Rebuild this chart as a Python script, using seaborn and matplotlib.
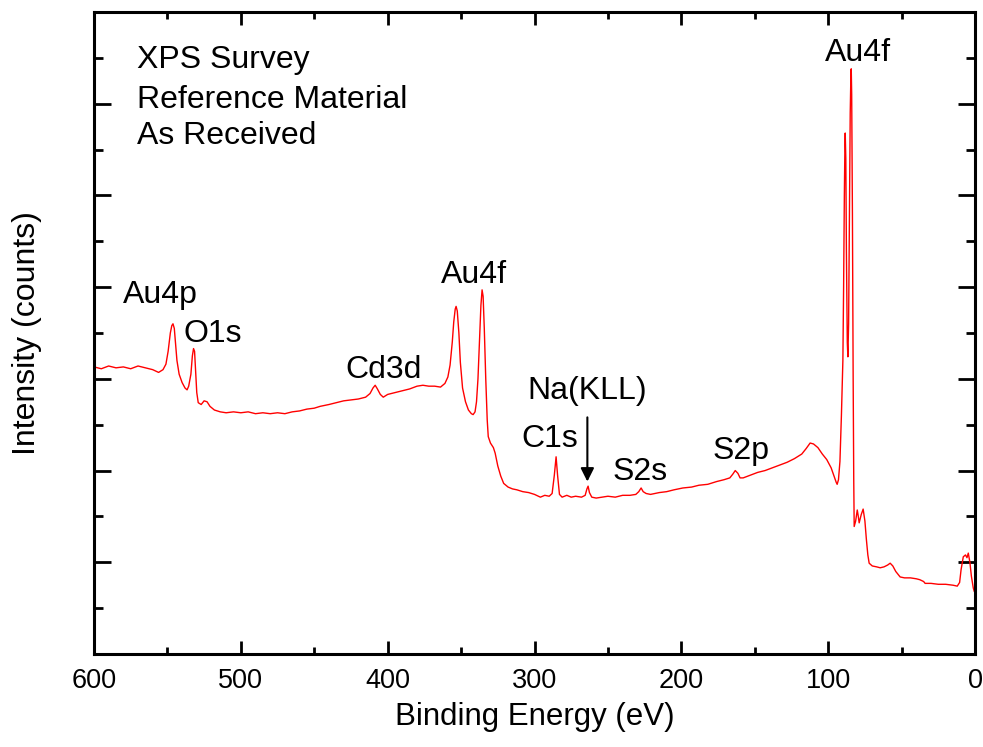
import numpy as np
import pandas as pd
import matplotlib
matplotlib.use("Agg")
import matplotlib.pyplot as plt
import seaborn as sns
from matplotlib.ticker import MultipleLocator, NullFormatter

# ---- data ----
binding_energy = [
    600, 595, 590, 585, 580, 575, 570, 565, 560, 556, 553, 551, 549.5, 548, 547, 546.2, 545.3, 544.5,
    543.5, 542, 540, 538, 536.6, 535.5, 534, 533, 532.2, 531.5, 530.8, 530, 529, 527, 525, 523, 521,
    518, 514, 510, 505, 500, 495, 490, 485, 480, 475, 470, 465, 460, 455, 450, 446, 440, 435, 430, 425,
    420, 415, 412, 410, 408.5, 407, 405, 403, 400, 395, 390, 385, 380, 376, 372, 368, 364, 361, 359,
    357.5, 356, 355, 354, 353.4, 352.6, 351.5, 350.5, 349, 347, 345, 343, 341.8, 340.5, 339.5, 338.5,
    337.5, 336.5, 335.7, 335, 334.2, 333.2, 332.2, 331.5, 330, 328, 326.8, 325, 323, 321, 318, 315,
    312, 308, 304, 300, 296, 293, 290, 288, 286.5, 285.3, 284.3, 283, 281.2, 278, 275, 272, 268, 265.5,
    264.3, 263.5, 262.6, 261, 258, 254, 250, 245, 240, 235, 231, 229, 227.4, 226, 224, 221, 215, 210,
    205, 199, 193, 188, 182, 176, 171, 167, 165, 163.3, 161.5, 160, 157.9, 153, 148, 143, 138, 133, 128,
    123, 118, 115, 112.3, 110, 107, 104, 101, 98, 96, 94.5, 93.9, 93, 92, 91, 90, 89.5, 89, 88.6, 88.4,
    88.0, 87.6, 87.0, 86.6, 86.1, 85.5, 85.0, 84.5, 84.3, 84.0, 83.5, 83.0, 82.6, 82.3, 81.3, 80.2,
    79.5, 78.9, 77.5, 76.2, 75, 74, 73, 72.1, 70, 67, 64.6, 62, 59.5, 57.8, 56, 54, 51, 48, 44, 40,
    37.6, 35, 34, 30, 25, 20, 15, 12.1, 10.5, 9.5, 8, 6.5, 5.5, 4.6, 3.5, 2.5, 1.2, 0.5,
]
intensity = [
    3.13, 3.11, 3.14, 3.12, 3.13, 3.11, 3.14, 3.12, 3.10, 3.07, 3.10, 3.16, 3.30, 3.50, 3.58, 3.60, 3.55, 3.40,
    3.20, 3.05, 2.96, 2.90, 2.88, 2.92, 3.05, 3.25, 3.33, 3.30, 3.10, 2.85, 2.74, 2.72, 2.76, 2.75, 2.70,
    2.66, 2.64, 2.63, 2.64, 2.63, 2.64, 2.62, 2.63, 2.62, 2.63, 2.62, 2.64, 2.65, 2.67, 2.68, 2.70, 2.72, 2.74, 2.76, 2.77,
    2.78, 2.80, 2.84, 2.90, 2.93, 2.89, 2.83, 2.80, 2.83, 2.85, 2.87, 2.89, 2.92, 2.93, 2.92, 2.92, 2.91, 2.95, 3.02,
    3.15, 3.40, 3.62, 3.76, 3.79, 3.74, 3.50, 3.18, 2.90, 2.75, 2.66, 2.62, 2.61, 2.64, 2.75, 3.00,
    3.40, 3.80, 3.97, 3.90, 3.55, 3.00, 2.55, 2.37, 2.30, 2.25, 2.19, 2.05, 1.94, 1.86, 1.82, 1.80,
    1.79, 1.77, 1.76, 1.74, 1.71, 1.73, 1.72, 1.75, 1.95, 2.15, 1.95, 1.74, 1.71, 1.73, 1.71, 1.72, 1.71, 1.73,
    1.80, 1.83, 1.76, 1.71, 1.70, 1.71, 1.72, 1.71, 1.73, 1.73, 1.74, 1.77, 1.81, 1.77, 1.75, 1.74, 1.76, 1.77,
    1.79, 1.81, 1.82, 1.84, 1.85, 1.88, 1.90, 1.92, 1.96, 2.00, 1.97, 1.92, 1.92, 1.95, 1.98, 2.00, 2.03, 2.06, 2.09,
    2.13, 2.18, 2.24, 2.30, 2.29, 2.25, 2.18, 2.12, 2.03, 1.94, 1.87, 1.85, 1.90, 2.10, 2.60, 3.20, 4.00, 5.00, 5.55, 5.68,
    5.40, 4.40, 3.40, 3.24, 3.60, 4.80, 5.90, 6.35, 6.38, 6.10, 4.80, 3.00, 1.90, 1.39, 1.45, 1.57,
    1.50, 1.43, 1.52, 1.58, 1.45, 1.25, 1.08, 0.99, 0.96, 0.95, 0.94, 0.95, 0.97, 0.99, 0.96, 0.90, 0.84, 0.83, 0.83, 0.82,
    0.81, 0.79, 0.77, 0.77, 0.76, 0.76, 0.75, 0.74, 0.78, 0.92, 1.06, 1.08, 1.05, 1.10, 1.00, 0.85, 0.72, 0.68,
]

peak_labels = ["Au4p", "O1s", "Cd3d", "Au4f", "Na(KLL)", "C1s", "S2s", "S2p", "Au4f"]
label_energy = [555, 519, 403, 341, 264, 289.4, 228, 159.3, 79.6]
label_intensity = [3.83, 3.40, 3.01, 4.05, 2.78, 2.26, 1.90, 2.13, 6.46]

info_lines = ["XPS Survey", "Reference Material", "As Received"]
info_intensity = [6.39, 5.95, 5.56]

df = pd.DataFrame({"Binding Energy (eV)": binding_energy, "Intensity": intensity})

# ---- styling ----
sns.set_style("ticks")
plt.rcParams["font.family"] = ["Liberation Sans", "DejaVu Sans"]
plt.rcParams["text.color"] = "black"
plt.rcParams["axes.labelcolor"] = "black"
plt.rcParams["xtick.color"] = "black"
plt.rcParams["ytick.color"] = "black"

fig = plt.figure(figsize=(9.83, 7.47), dpi=100)
ax = fig.add_axes([0.0956, 0.1245, 0.8963, 0.8595])

sns.lineplot(data=df, x="Binding Energy (eV)", y="Intensity", ax=ax,
             color="#ff0000", linewidth=1.0, estimator=None, sort=False)

ax.set_xlim(600, 0)
ax.set_ylim(0, 7)
ax.xaxis.set_major_locator(MultipleLocator(100))
ax.xaxis.set_minor_locator(MultipleLocator(50))
ax.yaxis.set_major_locator(MultipleLocator(1))
ax.yaxis.set_minor_locator(MultipleLocator(0.5))
ax.yaxis.set_major_formatter(NullFormatter())

ax.tick_params(axis="both", which="both", direction="in", top=True, right=True,
               width=2, colors="black")
ax.tick_params(axis="x", which="major", length=9.5, labelsize=19.5, pad=10)
ax.tick_params(axis="x", which="minor", length=5)
ax.tick_params(axis="y", which="major", length=12)
ax.tick_params(axis="y", which="minor", length=6.5)
for sp in ax.spines.values():
    sp.set_linewidth(2.2)
    sp.set_color("black")

ax.set_xlabel("Binding Energy (eV)", fontsize=22.5, labelpad=6, color="black")
ax.set_ylabel("Intensity (counts)", fontsize=23, labelpad=34, color="black")

for txt, e, v in zip(peak_labels, label_energy, label_intensity):
    ax.text(e, v, txt, ha="center", va="baseline", fontsize=23, color="black")

for txt, v in zip(info_lines, info_intensity):
    ax.text(570.7, v, txt, ha="left", va="baseline", fontsize=23, color="black")

ax.annotate("", xy=(264, 1.88), xytext=(264, 2.58),
            arrowprops=dict(arrowstyle="-|>", color="black", lw=1.5, mutation_scale=20,
                            shrinkA=0, shrinkB=0))

fig.savefig("out.png", dpi=100)
